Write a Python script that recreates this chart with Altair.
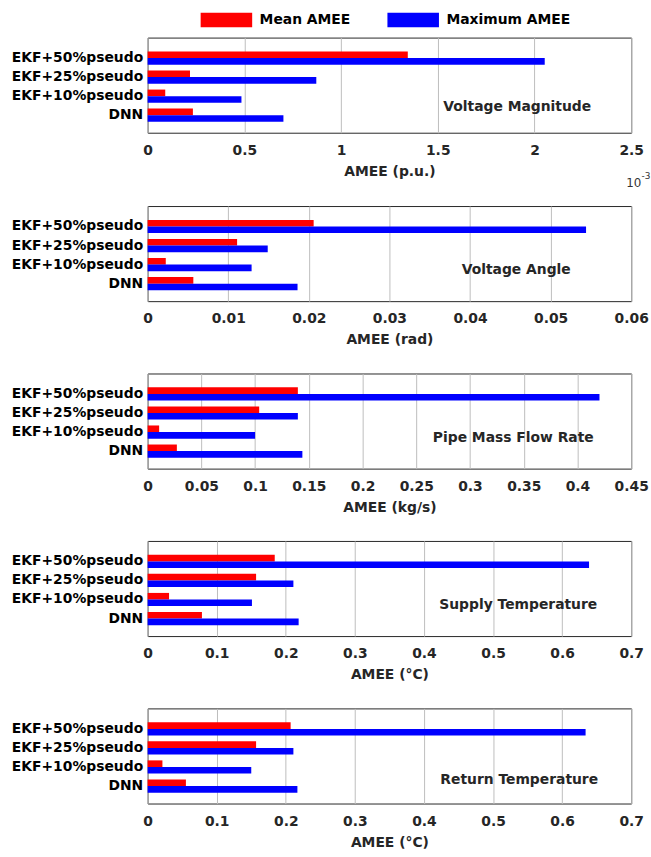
import altair as alt
import pandas as pd

categories = ["EKF+50%pseudo", "EKF+25%pseudo", "EKF+10%pseudo", "DNN"]
series = ["Mean AMEE", "Maximum AMEE"]
colors = ["#ff0000", "#0000ff"]

# Voltage magnitude (x 10^-3 p.u.)
vm_mean = [1.345, 0.219, 0.091, 0.234]
vm_max = [2.053, 0.872, 0.485, 0.702]
# Voltage angle (rad)
va_mean = [0.0206, 0.0111, 0.00225, 0.00567]
va_max = [0.0544, 0.0149, 0.0129, 0.0186]
# Pipe mass flow rate (kg/s)
mf_mean = [0.1398, 0.1038, 0.0107, 0.0272]
mf_max = [0.4205, 0.1398, 0.1000, 0.1440]
# Supply temperature (degC)
st_mean = [0.184, 0.157, 0.031, 0.0786]
st_max = [0.639, 0.211, 0.151, 0.2186]
# Return temperature (degC)
rt_mean = [0.207, 0.157, 0.0214, 0.0554]
rt_max = [0.634, 0.211, 0.150, 0.2168]

panel_names = ["Voltage Magnitude", "Voltage Angle", "Pipe Mass Flow Rate",
               "Supply Temperature", "Return Temperature"]
axis_titles = ["AMEE (p.u.)", "AMEE (rad)", "AMEE (kg/s)", "AMEE (°C)", "AMEE (°C)"]
domains = [[0, 2.5], [0, 0.06], [0, 0.45], [0, 0.7], [0, 0.7]]
tick_values = [
    [0, 0.5, 1, 1.5, 2, 2.5],
    [0, 0.01, 0.02, 0.03, 0.04, 0.05, 0.06],
    [0, 0.05, 0.1, 0.15, 0.2, 0.25, 0.3, 0.35, 0.4, 0.45],
    [0, 0.1, 0.2, 0.3, 0.4, 0.5, 0.6, 0.7],
    [0, 0.1, 0.2, 0.3, 0.4, 0.5, 0.6, 0.7],
]
exp_base = ["10"]
exp_power = ["-3"]

means = [vm_mean, va_mean, mf_mean, st_mean, rt_mean]
maxs = [vm_max, va_max, mf_max, st_max, rt_max]

FONT = "DejaVu Sans"
FS = 14
W, H = 488, 96
label_pos = [(373, 70), (372, 65), (369, 65), (374, 65), (375, 72)]

panels = []
for i in range(5):
    rows = []
    for c, m, x in zip(categories, means[i], maxs[i]):
        rows.append({"method": c, "series": series[0], "value": m})
        rows.append({"method": c, "series": series[1], "value": x})
    df = pd.DataFrame(rows)

    if i == 0:
        legend = alt.Legend(
            title=None, orient="none", legendX=72.5, legendY=-25,
            direction="horizontal", padding=0,
            symbolType="M-4,-1.13L4,-1.13L4,1.13L-4,1.13Z", symbolSize=169,
            symbolStrokeWidth=0, symbolOpacity=1,
            labelFont=FONT, labelFontSize=FS, labelFontWeight="bold",
            labelColor="black", labelOffset=26.5, columnPadding=36.5,
        )
    else:
        legend = None

    bars = alt.Chart(df).mark_bar(opacity=1).encode(
        x=alt.X("value:Q",
                scale=alt.Scale(domain=domains[i], nice=False, zero=True),
                axis=alt.Axis(values=tick_values[i], format="~g", title=axis_titles[i],
                              grid=True, gridColor="#bdbdbd", gridWidth=1,
                              ticks=False, domain=False, labelPadding=11,
                              titlePadding=7, labelFlush=False,
                              labelFont=FONT, labelFontSize=FS, labelFontWeight="bold",
                              labelColor="#262626",
                              titleFont=FONT, titleFontSize=FS, titleFontWeight="bold",
                              titleColor="#262626")),
        y=alt.Y("method:N", sort=categories,
                scale=alt.Scale(paddingInner=0.307, paddingOuter=0.65, align=0.56),
                axis=alt.Axis(title=None, ticks=False, domain=False, labelPadding=5,
                              labelFont=FONT, labelFontSize=FS, labelFontWeight="bold",
                              labelColor="black")),
        yOffset=alt.YOffset("series:N", sort=series,
                            scale=alt.Scale(paddingInner=0, paddingOuter=0)),
        color=alt.Color("series:N", sort=series,
                        scale=alt.Scale(domain=series, range=colors), legend=legend),
    )

    lx, ly = label_pos[i]
    txt = alt.Chart(pd.DataFrame({"t": [panel_names[i]]})).mark_text(
        font=FONT, fontSize=FS, fontWeight="bold", color="#262626",
        align="center", baseline="middle",
    ).encode(text="t:N", x=alt.value(lx), y=alt.value(ly))

    layers = [bars, txt]
    if i == 0:
        e1 = alt.Chart(pd.DataFrame({"t": exp_base})).mark_text(
            font=FONT, fontSize=12, color="#333333", align="left", baseline="middle",
        ).encode(text="t:N", x=alt.value(483), y=alt.value(146.5))
        e2 = alt.Chart(pd.DataFrame({"t": exp_power})).mark_text(
            font=FONT, fontSize=9, color="#333333", align="left", baseline="middle",
        ).encode(text="t:N", x=alt.value(498.5), y=alt.value(140))
        layers += [e1, e2]

    panels.append(alt.layer(*layers).properties(width=W, height=H))

lower = alt.vconcat(*panels[1:], spacing=25)
chart = alt.vconcat(panels[0], lower, spacing=16).resolve_legend(color="independent").properties(
    padding={"left": 10, "top": 8, "right": 0, "bottom": 0}
).configure(
    background="white"
).configure_view(
    stroke="#262626", strokeWidth=1
)

chart.save("out.html", embed_options={"renderer": "svg", "actions": False})
